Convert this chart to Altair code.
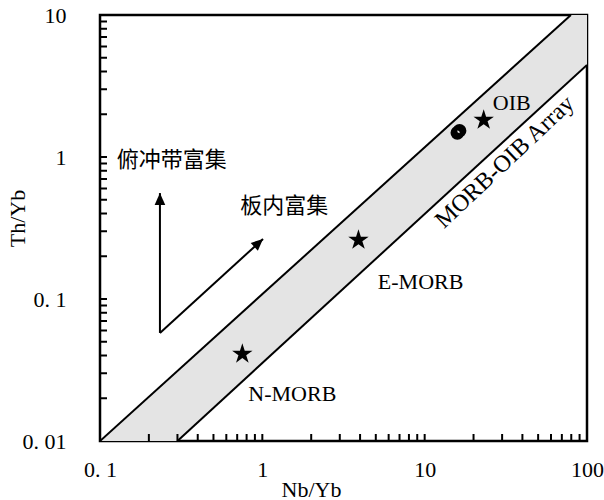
import altair as alt

# ---- data ----
band_x = [0.1, 0.3, 79.6, 100]
band_upper = [0.01, 0.031, 10, 10]
band_lower = [0.01, 0.01, 3.5, 4.45]

upper_line_x = [0.1, 79.6]
upper_line_y = [0.01, 10]
lower_line_x = [0.3, 100]
lower_line_y = [0.01, 4.45]

star_names = ["N-MORB", "E-MORB", "OIB"]
star_nb = [0.753, 3.91, 23.1]
star_th = [0.041, 0.26, 1.82]

sample_nb = [16.4, 15.9]
sample_th = [1.53, 1.48]

arrow_start = [0.234, 0.0577]
arrow_up_tip = [0.234, 0.557]
arrow_diag_tip = [1.01, 0.265]

label_text = ["OIB", "E-MORB", "N-MORB"]
label_nb = [34.4, 9.44, 1.53]
label_th = [2.40, 0.132, 0.0214]

cn_text = ["俯冲带富集", "板内富集"]
cn_nb = [0.127, 0.731]
cn_th = [0.953, 0.452]

array_text = "MORB-OIB Array"
array_pos = [31.2, 0.92]

x_ticks = [0.2, 0.3, 0.4, 0.5, 0.6, 0.7, 0.8, 0.9,
           1, 2, 3, 4, 5, 6, 7, 8, 9,
           10, 20, 30, 40, 50, 60, 70, 80, 90]
y_ticks = [0.02, 0.03, 0.04, 0.05, 0.06, 0.07, 0.08, 0.09,
           0.1, 0.2, 0.3, 0.4, 0.5, 0.6, 0.7, 0.8, 0.9,
           1, 2, 3, 4, 5, 6, 7, 8, 9]

x_labels = [0.1, 1, 10, 100]
y_labels = [0.01, 0.1, 1, 10]

# ---- chart ----
W, H = 487, 426
X_MIN, X_MAX, Y_MIN, Y_MAX = 0.1, 100, 0.01, 10
TICK_PX = 7
SERIF = "Liberation Serif"
CJK = "Noto Sans CJK SC"

STAR = ("M0,-1L0.2245,-0.309L0.9511,-0.309L0.3633,0.118L0.5878,0.809L0,0.382"
        "L-0.5878,0.809L-0.3633,0.118L-0.9511,-0.309L-0.2245,-0.309Z")
HEAD = "M0,0L-0.45,1L0.45,1Z"


def rows(**cols):
    keys = list(cols)
    n = len(cols[keys[0]])
    return alt.Data(values=[{k: cols[k][i] for k in keys} for i in range(n)])


xs = alt.Scale(type="log", domain=[X_MIN, X_MAX], nice=False)
ys = alt.Scale(type="log", domain=[Y_MIN, Y_MAX], nice=False)

lab_expr = ("abs(datum.value - 0.1) < 1e-9 ? '0. 1' : abs(datum.value - 0.01) < 1e-9 ? '0. 01' : "
            "datum.value == 1 ? '1' : datum.value == 10 ? '10' : '100'")

xaxis = alt.Axis(values=x_labels, labelExpr=lab_expr, ticks=False, domain=False, grid=False,
                 labelFont=SERIF, labelFontSize=22, labelColor="black", labelPadding=18,
                 labelFlush=False, labelOverlap=False,
                 title="Nb/Yb", titleFont=SERIF, titleFontSize=22, titleFontWeight="normal",
                 titleColor="black", titleX=211, titleY=48, titleBaseline="middle")
yaxis = alt.Axis(values=y_labels, labelExpr=lab_expr, ticks=False, domain=False, grid=False,
                 labelFont=SERIF, labelFontSize=22, labelColor="black", labelPadding=34,
                 labelFlush=False, labelOverlap=False, labelBaseline="middle",
                 title="Th/Yb", titleFont=SERIF, titleFontSize=22, titleFontWeight="normal",
                 titleColor="black", titleX=-83, titleY=203, titleBaseline="middle", titleAngle=270)

X = lambda f: alt.X(f, type="quantitative", scale=xs)
Y = lambda f: alt.Y(f, type="quantitative", scale=ys)

band = alt.Chart(rows(x=band_x, yu=band_upper, yl=band_lower)).mark_area(
    color="#e4e4e4", opacity=1, clip=True).encode(
    x=alt.X("x", type="quantitative", scale=xs, axis=xaxis),
    y=alt.Y("yu", type="quantitative", scale=ys, axis=yaxis),
    y2="yl",
)

upper = alt.Chart(rows(x=upper_line_x, y=upper_line_y)).mark_line(
    color="black", strokeWidth=2, clip=True).encode(x=X("x"), y=Y("y"))
lower = alt.Chart(rows(x=lower_line_x, y=lower_line_y)).mark_line(
    color="black", strokeWidth=2, clip=True).encode(x=X("x"), y=Y("y"))

shaft_up = alt.Chart(rows(x=[arrow_start[0], arrow_up_tip[0]], y=[arrow_start[1], arrow_up_tip[1]])).mark_line(
    color="black", strokeWidth=2).encode(x=X("x"), y=Y("y"))
shaft_diag = alt.Chart(rows(x=[arrow_start[0], arrow_diag_tip[0]], y=[arrow_start[1], arrow_diag_tip[1]])).mark_line(
    color="black", strokeWidth=2).encode(x=X("x"), y=Y("y"))

head_up = alt.Chart(rows(x=[arrow_up_tip[0]], y=[arrow_up_tip[1]])).mark_point(
    shape=HEAD, filled=True, color="black", opacity=1, size=560, angle=0).encode(x=X("x"), y=Y("y"))
head_diag = alt.Chart(rows(x=[arrow_diag_tip[0]], y=[arrow_diag_tip[1]])).mark_point(
    shape=HEAD, filled=True, color="black", opacity=1, size=560, angle=47.6).encode(x=X("x"), y=Y("y"))

stars = alt.Chart(rows(n=star_names, x=star_nb, y=star_th)).mark_point(
    shape=STAR, filled=True, color="black", opacity=1, size=460).encode(x=X("x"), y=Y("y"))

samples = alt.Chart(rows(x=sample_nb, y=sample_th)).mark_point(
    shape="circle", filled=False, color="black", opacity=1, size=85, strokeWidth=4.5).encode(x=X("x"), y=Y("y"))

labels = alt.Chart(rows(t=label_text, x=label_nb, y=label_th)).mark_text(
    font=SERIF, fontSize=22, color="black", align="center", baseline="middle").encode(
    x=X("x"), y=Y("y"), text=alt.Text("t", type="nominal"))

cn = alt.Chart(rows(t=cn_text, x=cn_nb, y=cn_th)).mark_text(
    font=CJK, fontSize=22, color="black", align="left", baseline="middle").encode(
    x=X("x"), y=Y("y"), text=alt.Text("t", type="nominal"))

arr = alt.Chart(rows(t=[array_text], x=[array_pos[0]], y=[array_pos[1]])).mark_text(
    font=SERIF, fontSize=24, color="black", align="center", baseline="middle", angle=316.7).encode(
    x=X("x"), y=Y("y"), text=alt.Text("t", type="nominal"))

# inward tick marks: short rules whose ends go through the same scales
x_tick_end = Y_MIN * (Y_MAX / Y_MIN) ** (TICK_PX / H)
y_tick_end = X_MIN * (X_MAX / X_MIN) ** (TICK_PX / W)

xtick_rules = alt.Chart(rows(v=x_ticks, a=[Y_MIN] * len(x_ticks), b=[x_tick_end] * len(x_ticks))).mark_rule(
    color="black", strokeWidth=2, opacity=1).encode(
    x=X("v"), y=Y("a"), y2="b")
ytick_rules = alt.Chart(rows(v=y_ticks, a=[X_MIN] * len(y_ticks), b=[y_tick_end] * len(y_ticks))).mark_rule(
    color="black", strokeWidth=2, opacity=1).encode(
    y=Y("v"), x=X("a"), x2="b")

chart = alt.layer(
    band, upper, lower, shaft_up, shaft_diag, head_up, head_diag, samples, stars,
    labels, cn, arr, xtick_rules, ytick_rules,
).properties(
    width=W, height=H,
    autosize=alt.AutoSizeParams(type="none"),
    padding={"left": 100, "top": 15, "right": 17, "bottom": 59},
    background="white",
).configure_view(stroke="black", strokeWidth=2.5)

chart.save("out.html", embed_options={"renderer": "svg", "actions": False})
